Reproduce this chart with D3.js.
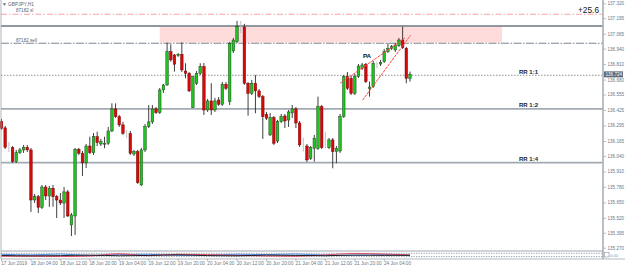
<!DOCTYPE html>
<html><head><meta charset="utf-8">
<script src="https://cdn.jsdelivr.net/npm/d3@7/dist/d3.min.js"></script>
<style>body{margin:0;background:#fff}svg{display:block;font-family:"Liberation Sans",Arial,sans-serif}</style>
</head><body>
<svg id="c" width="625" height="268"></svg>
<script>
// ---- data (GBPJPY H1, 17 Jun 2019 20:00 -> 24 Jun 2019 11:00) ----
const openP = [
136.327,136.275,136.112,136.110,135.992,136.067,136.090,136.112,136.090,135.670,
135.698,135.609,135.779,135.704,135.769,135.698,135.670,135.645,135.738,135.461,
135.536,136.096,136.062,135.981,136.123,136.067,136.201,136.140,136.138,136.146,
136.249,136.434,136.369,136.300,136.230,136.228,136.056,136.076,135.796,136.090,
136.285,136.325,136.434,136.403,136.593,136.635,136.914,136.887,136.881,136.893,
136.752,136.733,136.445,136.649,136.733,136.789,136.425,136.501,136.425,136.509,
136.473,136.641,136.495,136.920,136.998,137.124,137.121,136.649,136.565,136.649,
136.585,136.537,136.389,136.216,136.361,136.165,136.327,136.375,136.341,136.400,
136.434,136.316,136.174,136.123,136.020,136.104,136.104,136.453,136.120,136.109,
136.174,136.076,136.081,136.369,136.705,136.691,136.565,136.705,136.775,136.809,
136.604,136.621,136.815,136.811,136.830,136.914,136.943,136.929,136.965,137.012,
136.943,136.691];
const highP = [
136.350,136.291,136.159,136.122,136.090,136.107,136.132,136.132,136.107,135.721,
135.712,135.796,135.796,135.788,135.796,135.712,135.729,135.779,135.754,135.561,
136.107,136.107,136.081,136.140,136.201,136.232,136.243,136.182,136.201,136.283,
136.481,136.481,136.383,136.325,136.258,136.249,136.090,136.090,136.107,136.308,
136.467,136.467,136.450,136.610,136.643,136.990,136.976,136.895,136.903,136.993,
136.817,136.744,136.711,136.752,136.817,136.820,136.518,136.649,136.526,136.534,
136.660,136.660,136.996,137.029,137.172,137.172,137.147,136.660,136.677,136.719,
136.601,136.551,136.409,136.400,136.375,136.341,136.392,136.392,136.425,136.467,
136.450,136.333,136.193,136.140,136.123,136.216,136.537,136.467,136.243,136.190,
136.190,136.123,136.392,136.719,136.744,136.711,136.727,136.811,136.820,136.820,
136.663,136.836,136.830,136.845,136.937,136.985,136.970,136.987,137.029,137.124,
136.954,136.747];
const lowP = [
136.258,136.098,136.073,135.981,135.981,136.056,136.065,136.073,135.570,135.645,
135.561,135.595,135.670,135.612,135.614,135.519,135.628,135.519,135.528,135.368,
135.377,136.048,135.872,135.939,136.056,136.048,136.123,136.123,136.104,136.132,
136.241,136.358,136.283,136.216,136.188,136.048,136.039,135.805,135.788,136.073,
136.274,136.308,136.392,136.392,136.568,136.627,136.830,136.747,136.870,136.744,
136.691,136.576,136.442,136.635,136.719,136.383,136.409,136.383,136.409,136.459,
136.459,136.593,136.467,136.903,136.987,137.071,136.635,136.377,136.551,136.398,
136.526,136.182,136.341,136.207,136.132,136.148,136.316,136.274,136.283,136.358,
136.274,136.115,136.076,135.989,136.006,135.992,136.090,136.098,136.104,136.098,
135.936,135.978,136.065,136.358,136.593,136.551,136.551,136.694,136.761,136.652,
136.537,136.610,136.775,136.794,136.820,136.903,136.929,136.912,136.954,136.937,
136.649,136.663];
const closeP = [
136.272,136.112,136.110,135.992,136.067,136.090,136.112,136.090,135.670,135.698,
135.609,135.779,135.704,135.769,135.698,135.670,135.645,135.738,135.536,135.545,
136.096,136.062,135.981,136.123,136.067,136.201,136.151,136.159,136.146,136.249,
136.434,136.369,136.300,136.230,136.228,136.062,136.076,135.815,136.090,136.285,
136.325,136.434,136.403,136.593,136.635,136.914,136.845,136.809,136.893,136.761,
136.733,136.585,136.705,136.733,136.789,136.425,136.501,136.425,136.501,136.473,
136.641,136.607,136.985,137.012,137.124,137.121,136.649,136.565,136.649,136.585,
136.537,136.369,136.356,136.361,136.146,136.327,136.369,136.333,136.409,136.434,
136.316,136.132,136.172,136.006,136.109,136.188,136.453,136.109,136.118,136.174,
136.076,136.104,136.369,136.705,136.607,136.565,136.705,136.794,136.803,136.663,
136.618,136.817,136.813,136.822,136.914,136.943,136.956,136.970,137.012,136.948,
136.691,136.724];

const priceTicks = [137.320,137.195,137.065,136.940,136.810,136.680,136.555,136.425,136.295,136.165,136.040,135.910,135.780,135.650,135.520,135.395,135.270];
const timeTickBars = [0,8,16,24,32,40,48,56,64,72,80,88,96,104];
const timeTickLabels = ["17 Jun 2019","18 Jun 04:00","18 Jun 12:00","18 Jun 20:00","19 Jun 04:00","19 Jun 12:00","19 Jun 20:00","20 Jun 04:00","20 Jun 12:00","20 Jun 20:00","21 Jun 04:00","21 Jun 12:00","21 Jun 20:00","24 Jun 04:00"];

const slLevel = 137.228, resistLevel = 137.130, sellLevel = 136.985;
const rrLevels = [136.716, 136.434, 135.983];
const rrLabels = ["RR 1:1", "RR 1:2", "RR 1:4"];
const zone = {fromBar: 43, toBar: 136, top: 137.124, bottom: 136.990};
const wedgeUpper = [[92.0, 136.649], [109.6, 137.027]];
const wedgeLower = [[98.15, 136.509], [111.2, 137.054]];
const paLabel = {bar: 98.2, price: 136.858, text: "PA"};
const profitText = "+25.6";
const lastPrice = 136.724;

const stripBars  = [0,8,16,24,32,40,48,56,64,72,80,88,96,104,111];
const stripBlack = [0.55,0.62,0.58,0.50,0.60,0.55,0.45,0.58,0.62,0.50,0.55,0.60,0.48,0.55,0.52];
const stripRed   = [0.70,0.68,0.75,0.65,0.25,0.60,0.35,0.40,0.55,0.65,0.70,0.45,0.20,0.30,0.45];
const stripBlue  = [0.35,0.45,0.30,0.55,0.40,0.35,0.55,0.50,0.35,0.40,0.30,0.50,0.55,0.40,0.60];

// ---- drawing ----
const svg = d3.select("#c");
const x = d3.scaleLinear().domain([0, 163.5]).range([1.5, 603.2]);
const y = d3.scaleLinear().domain([135.270, 137.320]).range([247.7, 3.3]);
const PL = 1, PR = 603, PB = 251;

svg.append("rect").attr("width",625).attr("height",268).attr("fill","#fff");

// zone
svg.append("rect").attr("x", x(zone.fromBar)).attr("y", y(zone.top))
  .attr("width", x(zone.toBar)-x(zone.fromBar)).attr("height", y(zone.bottom)-y(zone.top))
  .attr("fill","#ffdcdc");

function hline(p, stroke, w, dash){
  svg.append("line").attr("x1",PL).attr("x2",PR).attr("y1",y(p)).attr("y2",y(p))
    .attr("stroke",stroke).attr("stroke-width",w).attr("stroke-dasharray",dash||null);
}
hline(slLevel, "#f5a3ad", 1, "6,2,1.5,2");
hline(resistLevel, "#6b7683", 1.5);
hline(sellLevel, "#7d8894", 1.2, "8,1.5,1.5,1.5");
hline(rrLevels[0], "#7a7a7a", 0.8, "1.5,1.5");
hline(rrLevels[1], "#a2aab3", 1.8);
hline(rrLevels[2], "#a2aab3", 1.8);

// candles
const bars = d3.range(openP.length).map(i => ({i, o:openP[i], h:highP[i], l:lowP[i], c:closeP[i]}));
const isDoji = d => Math.abs(d.c - d.o) < 0.004;
svg.append("g").selectAll("line").data(bars).join("line")
  .attr("x1", d => x(d.i)).attr("x2", d => x(d.i))
  .attr("y1", d => y(d.h)).attr("y2", d => y(d.l))
  .attr("stroke", d => isDoji(d) ? "#b8b8b8" : "#2a2a2a").attr("stroke-width", 0.9);
const bw = 2.6;
svg.append("g").selectAll("rect").data(bars.filter(d => !isDoji(d))).join("rect")
  .attr("x", d => x(d.i) - bw/2).attr("width", bw)
  .attr("y", d => y(Math.max(d.o, d.c)))
  .attr("height", d => Math.max(0.8, Math.abs(y(d.o) - y(d.c))))
  .attr("fill", d => d.c >= d.o ? "#1fc41f" : "#d20a0a")
  .attr("stroke", d => d.c >= d.o ? "#1a3a1a" : "#7a0000").attr("stroke-width", 0.45);

// wedge lines
const lineGen = d3.line().x(d => x(d[0])).y(d => y(d[1]));
[wedgeUpper, wedgeLower].forEach(w => svg.append("path").attr("d", lineGen(w))
  .attr("stroke","#ff4545").attr("stroke-width",1).attr("fill","none").attr("stroke-dasharray","3,0.8"));

// texts
svg.append("text").attr("x", x(paLabel.bar)).attr("y", y(paLabel.price)).text(paLabel.text)
  .attr("font-size",6.2).attr("font-weight","bold").attr("fill","#111");
rrLevels.forEach((p,k) => svg.append("text").attr("x",519).attr("y", y(p)-1.8).text(rrLabels[k])
  .attr("font-size",6).attr("font-weight","bold").attr("fill","#1a1a2a"));
svg.append("text").attr("x",599).attr("y",13.2).attr("text-anchor","end").text(profitText)
  .attr("font-size",8.3).attr("fill","#111");
svg.append("text").attr("x",16).attr("y",y(slLevel)-1.8).text("87182 sl").attr("font-size",4.6).attr("fill","#5a6470");
svg.append("text").attr("x",16).attr("y",y(sellLevel)-1.6).text("87182 sell").attr("font-size",4.6).attr("fill","#5a6470");
svg.append("text").attr("x",2).attr("y",6).text("\u25BC GBPJPY,H1").attr("font-size",4.8).attr("fill","#5a6470");

// frame
svg.append("line").attr("x1",PL).attr("x2",PL).attr("y1",0).attr("y2",259).attr("stroke","#9aa3ad").attr("stroke-width",0.8);
svg.append("line").attr("x1",PR).attr("x2",PR).attr("y1",0).attr("y2",259).attr("stroke","#a8b0b8").attr("stroke-width",1.6);
svg.append("line").attr("x1",PL).attr("x2",PR).attr("y1",PB).attr("y2",PB).attr("stroke","#a0a8b0").attr("stroke-width",1.2);
svg.append("line").attr("x1",PL).attr("x2",625).attr("y1",259).attr("y2",259).attr("stroke","#a0a8b0").attr("stroke-width",0.8);

// price axis
const yAxis = d3.axisRight(y).tickValues(priceTicks).tickFormat(d3.format(".3f")).tickSize(2.5).tickPadding(1.5);
const ga = svg.append("g").attr("transform",`translate(${PR+0.5},0)`).call(yAxis);
ga.select(".domain").remove();
ga.selectAll("line").attr("stroke","#8a949e").attr("stroke-width",0.6);
ga.selectAll("text").attr("font-size",4.6).attr("fill","#6a7786").attr("font-family","Liberation Sans, Arial, sans-serif");

// current price box
svg.append("rect").attr("x",604).attr("y",y(lastPrice)-3).attr("width",19).attr("height",6).attr("fill","#5c6a7a");
svg.append("text").attr("x",605.5).attr("y",y(lastPrice)+1.7).text(lastPrice.toFixed(3)).attr("font-size",4.6).attr("fill","#fff");

// indicator strip
const sy = d3.scaleLinear().domain([0,1]).range([252.3,258]);
[253.3, 256.6].forEach(v => svg.append("line").attr("x1",PL).attr("x2",PR).attr("y1",v).attr("y2",v)
  .attr("stroke","#9aa3ad").attr("stroke-width",1).attr("stroke-dasharray","1.3,1.2"));
const sl = d3.line().x((d,k) => x(stripBars[k])).y(d => sy(d)).curve(d3.curveMonotoneX);
[[stripBlue,"#3a7ee8"],[stripRed,"#e0405a"],[stripBlack,"#111"]].forEach(([arr,col]) =>
  svg.append("path").attr("d", sl(arr)).attr("fill","none").attr("stroke",col).attr("stroke-width",0.9));
svg.append("rect").attr("x",604.5).attr("y",252.5).attr("width",4.5).attr("height",4.5).attr("fill","none").attr("stroke","#8a949e").attr("stroke-width",0.6);
svg.append("text").attr("x",610).attr("y",257).text("0.00").attr("font-size",4.2).attr("fill","#8a949e");

// time axis
const gt = svg.append("g");
timeTickBars.forEach((b,k) => {
  gt.append("line").attr("x1",x(b)).attr("x2",x(b)).attr("y1",259).attr("y2",261).attr("stroke","#8a949e").attr("stroke-width",0.6);
  gt.append("text").attr("x",x(b)-0.3).attr("y",264.8).text(timeTickLabels[k]).attr("font-size",4.7).attr("fill","#6a7786");
});
</script>
</body></html>
